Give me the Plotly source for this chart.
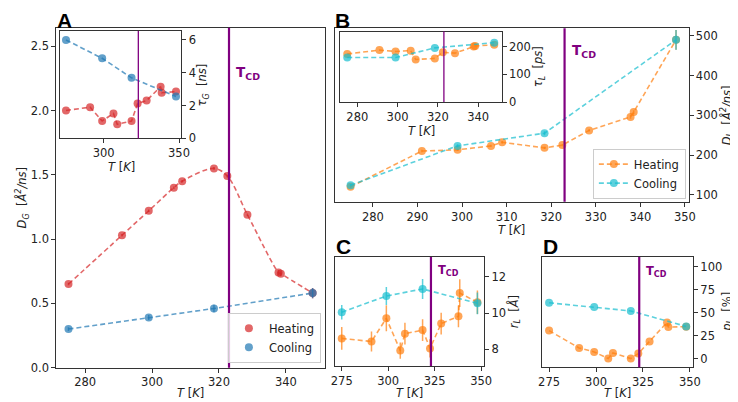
import plotly.graph_objects as go

W, H = 738, 402

# temperatures
T_heat = [275, 291, 299, 306.5, 309, 318.5, 322.5, 328.5, 337.8, 338.5, 348]
T_cool = [275, 299, 318.5, 348]
T_CD = 323

# A: D_G and tau_G
DG_heat = [0.65, 1.03, 1.22, 1.40, 1.45, 1.55, 1.49, 1.19, 0.74, 0.73, 0.58]
DG_heat_err = [0.01, 0.01, 0.01, 0.01, 0.01, 0.01, 0.01, 0.01, 0.02, 0.02, 0.04]
DG_cool = [0.30, 0.39, 0.46, 0.58]
DG_cool_err = [0.015, 0.02, 0.03, 0.04]
tauG_heat = [1.70, 1.90, 1.06, 1.52, 0.86, 1.06, 2.12, 2.31, 3.15, 2.78, 2.85]
tauG_cool = [6.0, 4.88, 3.69, 2.55]

# B: D_L and tau_L
DL_heat = [120, 210, 213, 223, 232, 218, 225, 262, 296, 308, 490]
DL_heat_err = [3, 3, 3, 3, 3, 3, 3, 3, 5, 5, 25]
DL_cool = [124, 223, 255, 490]
DL_cool_err = [3, 4, 5, 25]
tauL_heat = [174, 188, 183, 186, 154, 158, 180, 177, 201, 203, 207]
tauL_cool = [161, 161, 196, 215]

# C: r_L
rL_heat = [8.6, 8.43, 9.71, 7.93, 8.86, 9.06, 8.05, 9.42, 9.82, 11.1, 10.6]
rL_heat_err = [0.63, 0.55, 0.72, 0.45, 0.6, 0.6, 0.5, 0.6, 0.6, 0.77, 0.65]
rL_cool = [10.04, 10.94, 11.33, 10.54]
rL_cool_err = [0.4, 0.5, 0.55, 0.6]

# D: p_L
pL_heat = [30.4, 11.5, 7.2, 0, 6.1, 0, 5.4, 18.6, 39.3, 34.3, 34.7]
pL_cool = [60.7, 56.1, 51.8, 35]

RED, BLUE, ORANGE, CYAN, PURPLE = '#d62728', '#1f77b4', '#ff7f0e', '#17becf', '#800080'


def rgba(h, a):
    h = h.lstrip('#')
    return 'rgba(%d,%d,%d,%s)' % (int(h[0:2], 16), int(h[2:4], 16), int(h[4:6], 16), a)


def px_dom(a, b, total):
    return [a / total, b / total]


def py_dom(top, bottom):
    return [1 - bottom / H, 1 - top / H]


FONT = 'DejaVu Sans'
fig = go.Figure()


def series(x, y, col, ax, err=None, name=None, legend=None, mode='lines+markers',
           shape='linear', show=False):
    tr = dict(
        x=x, y=y, mode=mode, xaxis='x' + ax, yaxis='y' + ax,
        line=dict(color=rgba(col, 0.7), width=1.6, dash='5px,3px', shape=shape),
        marker=dict(color=col, size=8, opacity=0.7),
        showlegend=show, name=name,
    )
    if err is not None:
        tr['error_y'] = dict(type='data', array=err, color=rgba(col, 0.7), thickness=1.5, width=0)
    if legend:
        tr['legend'] = legend
    fig.add_trace(go.Scatter(**tr))


# Panel A main
series(T_heat, DG_heat, RED, '', shape='spline', mode='lines')
series(T_cool, DG_cool, BLUE, '', mode='lines')
series(T_heat, DG_heat, RED, '', err=DG_heat_err, mode='markers', name='Heating', legend='legend', show=True)
series(T_cool, DG_cool, BLUE, '', err=DG_cool_err, mode='markers', name='Cooling', legend='legend', show=True)
# Panel A inset
series(T_heat, tauG_heat, RED, '2')
series(T_cool, tauG_cool, BLUE, '2')
# Panel B main
series(T_heat, DL_heat, ORANGE, '3', err=DL_heat_err, name='Heating', legend='legend2', show=True)
series(T_cool, DL_cool, CYAN, '3', err=DL_cool_err, name='Cooling', legend='legend2', show=True)
# Panel B inset
series(T_heat, tauL_heat, ORANGE, '4')
series(T_cool, tauL_cool, CYAN, '4')
# Panel C
series(T_heat, rL_heat, ORANGE, '5', err=rL_heat_err)
series(T_cool, rL_cool, CYAN, '5', err=rL_cool_err)
# Panel D
series(T_heat, pL_heat, ORANGE, '6')
series(T_cool, pL_cool, CYAN, '6')

ax_common = dict(showline=True, linecolor='#333333', linewidth=1, mirror=True,
                 ticks='outside', ticklen=4, tickwidth=1, tickcolor='#333333',
                 showgrid=False, zeroline=False,
                 tickfont=dict(family=FONT, size=11.5, color='#222222'))

x_rng = [271.35, 351.65]

# domains in pixels (left, right, top, bottom)
dA = (45, 318, 20, 366)
dAi = (49.3, 172.3, 23.3, 132.7)
dB = (328.3, 687.7, 20.7, 197.3)
dBi = (333.3, 497.7, 24, 95.7)
dC = (328.3, 480, 253.3, 364.3)
dD = (539, 692.3, 253.3, 365.7)


def axes(d, xa, ya, xkw, ykw):
    l, r, t, b = d
    fig.layout['xaxis' + xa] = dict(ax_common, domain=px_dom(l, r, W), anchor='y' + ya, **xkw)
    fig.layout['yaxis' + ya] = dict(ax_common, domain=py_dom(t, b), anchor='x' + xa, **ykw)


axes(dA, '', '',
     dict(range=x_rng, tickvals=[280, 300, 320, 340]),
     dict(range=[0, 2.645], tickvals=[0, 0.5, 1.0, 1.5, 2.0, 2.5], tickformat='.1f'))
axes(dAi, '2', '2',
     dict(range=x_rng, tickvals=[300, 350]),
     dict(range=[0, 6.55], tickvals=[0, 2, 4, 6], side='right'))
axes(dB, '3', '3',
     dict(range=[271.5, 350.8], tickvals=list(range(280, 351, 10))),
     dict(range=[82, 519], tickvals=[100, 200, 300, 400, 500], side='right'))
axes(dBi, '4', '4',
     dict(range=x_rng, tickvals=[280, 300, 320, 340]),
     dict(range=[0, 255], tickvals=[0, 100, 200], side='right'))
axes(dC, '5', '5',
     dict(range=x_rng, tickvals=[275, 300, 325, 350]),
     dict(range=[7.08, 13.1], tickvals=[8, 10, 12], side='right'))
axes(dD, '6', '6',
     dict(range=x_rng, tickvals=[275, 300, 325, 350]),
     dict(range=[-9.6, 110.7], tickvals=[0, 25, 50, 75, 100], side='right'))

annots = []
TK = '<i>T</i> [<i>K</i>]'
# axis titles (x px, y px, text, angle)
titles = [
    (181, 392, TK, 0),
    (10, 193, '<i>D<sub>G</sub></i>  [<i>Å<sup>2</sup>/ns</i>]', -90),
    (111, 162, TK, 0),
    (194, 78, '<i>τ<sub>G</sub></i>  [<i>ns</i>]', -90),
    (508, 226, TK, 0),
    (727, 109, '<i>D<sub>L</sub></i>  [<i>Å<sup>2</sup>/ns</i>]', -90),
    (416, 125, TK, 0),
    (536, 60, '<i>τ<sub>L</sub></i>  [<i>ps</i>]', -90),
    (404, 392, TK, 0),
    (510, 309, '<i>r<sub>L</sub></i>  [<i>Å</i>]', -90),
    (616, 392, TK, 0),
    (727, 309, '<i>p<sub>L</sub></i>  [%]', -90),
]
for x, y, txt, ang in titles:
    annots.append(dict(text=txt, xref='paper', yref='paper', x=x / W, y=1 - y / H,
                       xanchor='center', yanchor='middle', textangle=ang, showarrow=False,
                       font=dict(family=FONT, size=11.5, color='#222222')))

# T_CD lines and labels
shapes = []
for ax, w, lab_y, fs in [('', 2.2, 66.5, 13.5), ('2', 1.3, None, 0), ('3', 2.2, 43.3, 13.5),
                         ('4', 1.3, None, 0), ('5', 2.2, 267.5, 11.5), ('6', 2.2, 268.3, 11.5)]:
    shapes.append(dict(type='line', xref='x' + ax, yref=('y' + ax) + ' domain', x0=T_CD, x1=T_CD,
                       y0=0, y1=1, line=dict(color=PURPLE, width=w), layer='above'))
    if lab_y is not None:
        annots.append(dict(text='<b>T<sub>CD</sub></b>', xref='x' + ax, yref='paper', x=T_CD,
                           y=1 - lab_y / H, xanchor='left', yanchor='middle', xshift=5,
                           showarrow=False, font=dict(family=FONT, size=fs, color=PURPLE)))

# panel letters
for txt, x, y in [('A', 44, 12.5), ('B', 326, 12.5), ('C', 327, 243), ('D', 538, 243)]:
    annots.append(dict(text='<b>%s</b>' % txt, xref='paper', yref='paper', x=x / W, y=1 - y / H,
                       xanchor='left', yanchor='middle', showarrow=False,
                       font=dict(family='Liberation Sans', size=21, color='black')))

leg_common = dict(bgcolor='rgba(255,255,255,0.8)', bordercolor='#cccccc', borderwidth=1,
                  font=dict(family=FONT, size=11.5, color='#222222'), tracegroupgap=0,
                  xanchor='right', yanchor='bottom')

fig.update_layout(
    width=W, height=H,
    margin=dict(l=0, r=0, t=0, b=0),
    plot_bgcolor='white', paper_bgcolor='white',
    font=dict(family=FONT, size=11.5, color='#222222'),
    shapes=shapes, annotations=annots,
    legend=dict(leg_common, x=314 / W, y=1 - 361 / H),
    legend2=dict(leg_common, x=685 / W, y=1 - 194 / H),
)

fig.write_html("out.html")
